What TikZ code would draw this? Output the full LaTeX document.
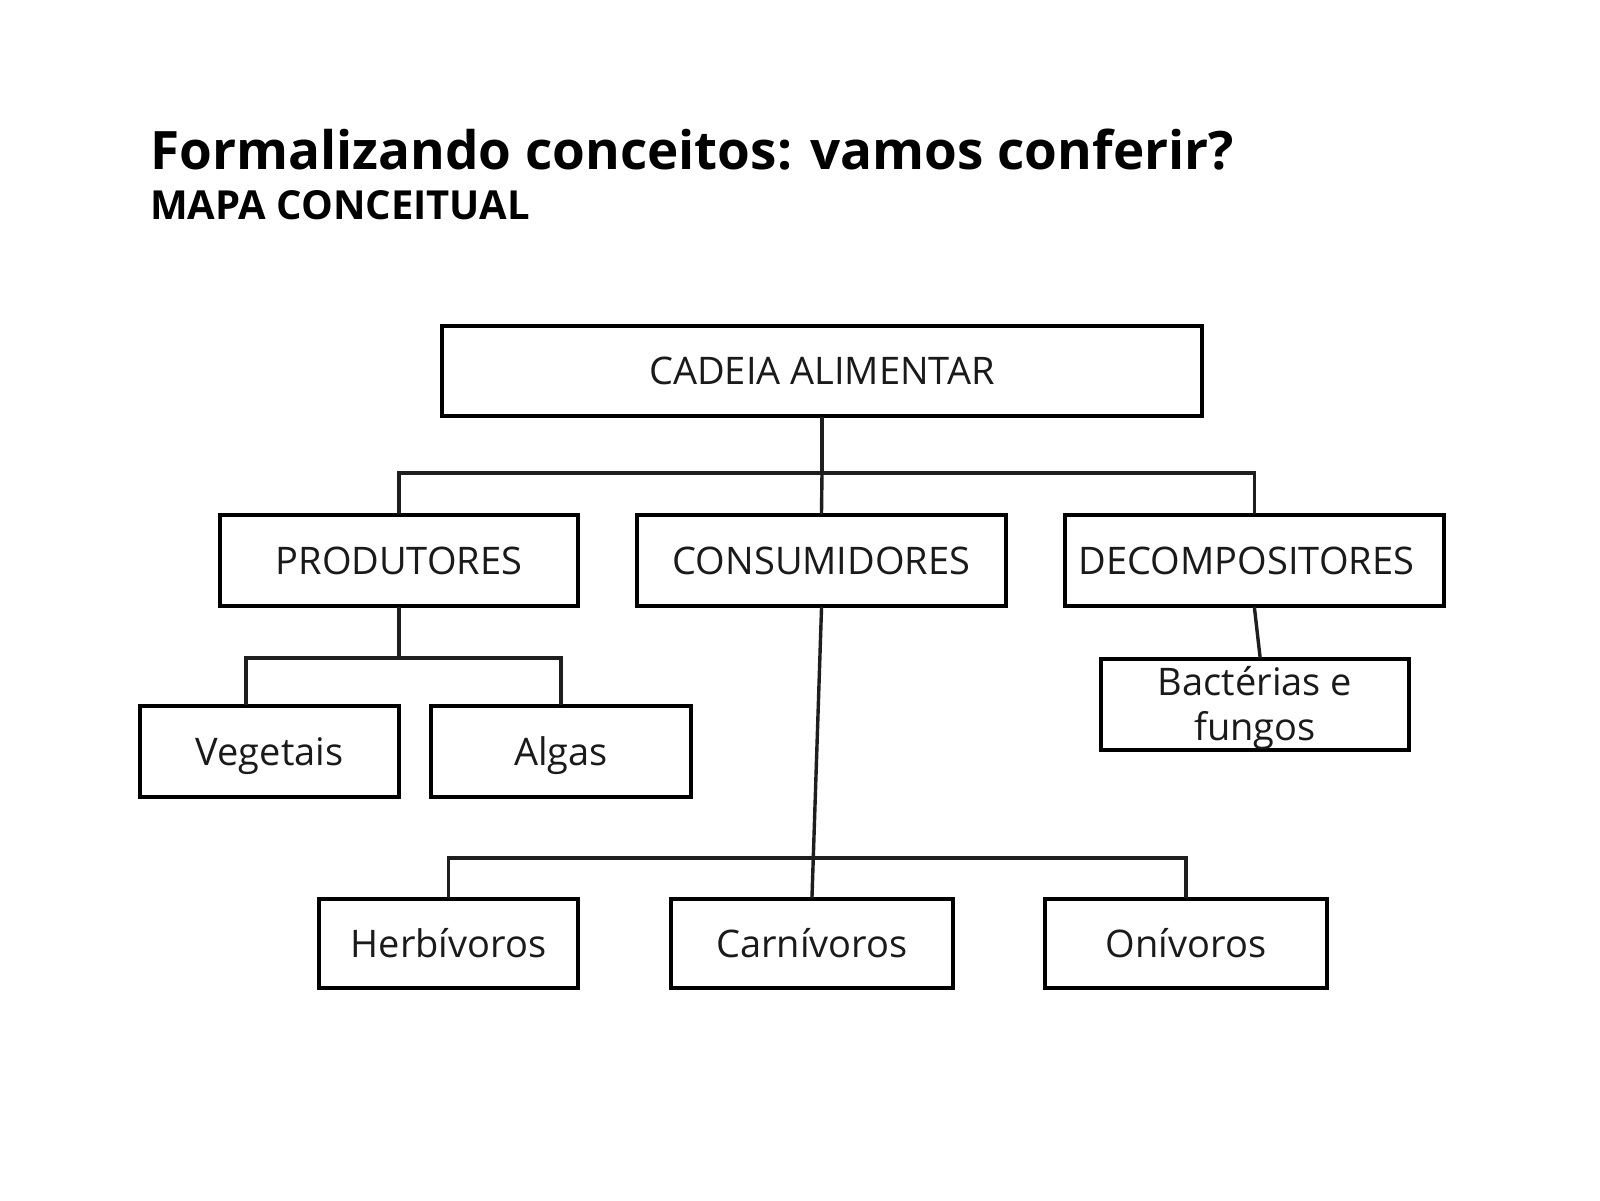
\documentclass[tikz,border=0pt]{standalone}
\usepackage{fontspec}
\setmainfont{Open Sans}
\newfontfamily\boxfont{Open Sans}
\usetikzlibrary{calc}
\definecolor{txtcol}{HTML}{1A1A1A}
\definecolor{linecol}{HTML}{1E1E1E}
\begin{document}
\begin{tikzpicture}[x=1pt,y=-1pt,
  box/.style={draw=black, line width=4.8pt, rectangle, inner sep=0pt,
    font=\boxfont\fontsize{38}{45}\selectfont, text=txtcol,
    text height=27pt, text depth=0pt},
  conn/.style={draw=linecol, line width=3.4pt, line cap=rect},
  ttl/.style={anchor=base west, inner sep=0pt, text=black}]
\path[use as bounding box, fill=white] (0,0) rectangle (1600,1200);

% titles
\node[ttl, font=\bfseries\fontsize{53}{60}\selectfont] (title) at (150,169) {Formalizando conceitos: vamos conferir?};
\node[ttl, font=\bfseries\fontsize{40}{46}\selectfont] (sub) at (150,219) {MAPA CONCEITUAL};

% boxes
\node[box, minimum width=760pt, minimum height=90pt] (cad) at (822,371) {CADEIA ALIMENTAR};
\node[box, minimum width=358pt, minimum height=91pt] (prod) at (399,560.5) {PRODUTORES};
\node[box, minimum width=369pt, minimum height=91pt] (cons) at (821.5,560.5) {CONSUMIDORES};
\node[box, minimum width=379pt, minimum height=91pt] (dec) at (1254.5,560.5) {\hspace*{-16pt}DECOMPOSITORES};
\node[box, minimum width=259pt, minimum height=91pt] (veg) at (269.5,751.5) {Vegetais};
\node[box, minimum width=260pt, minimum height=91pt] (alg) at (561,751.5) {Algas};
\node[box, minimum width=308pt, minimum height=91pt, align=center, text height=72pt, text depth=0pt] (bac) at (1255,704.5) {Bactérias e\\fungos};
\node[box, minimum width=259pt, minimum height=89pt] (herb) at (448.5,943.5) {Herbívoros};
\node[box, minimum width=282pt, minimum height=89pt] (carn) at (812,943.5) {Carnívoros};
\node[box, minimum width=282pt, minimum height=89pt] (oni) at (1186,943.5) {Onívoros};

% junctions
\coordinate (j1) at (822,473);
\coordinate (j2) at (399,658);
\coordinate (j3) at (813,858);

% connectors
\draw[conn] (cad.south) -- (j1);
\draw[conn] (prod.north) |- (j1) -| (dec.north);
\draw[conn] (j1) -- (cons.north);
\draw[conn] (prod.south) -- (j2);
\draw[conn] ([xshift=-23.5pt]veg.north) |- (j2) -| (alg.north);
\draw[conn] (cons.south) -- (carn.north);
\draw[conn] (herb.north) |- (j3) -| (oni.north);
\draw[conn] (dec.south) -- ([xshift=5pt]bac.north);
\end{tikzpicture}
\end{document}
